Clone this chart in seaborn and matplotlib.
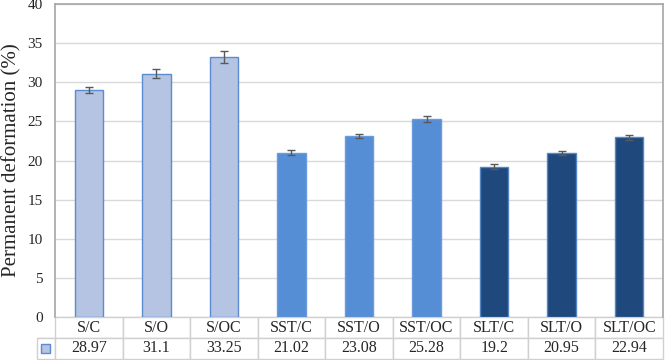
import matplotlib
matplotlib.use("Agg")
import matplotlib.pyplot as plt
import seaborn as sns
import pandas as pd
from matplotlib.patches import Rectangle

# data
categories = ["S/C", "S/O", "S/OC", "SST/C", "SST/O", "SST/OC", "SLT/C", "SLT/O", "SLT/OC"]
values = [28.97, 31.1, 33.25, 21.02, 23.08, 25.28, 19.2, 20.95, 22.94]
value_labels = ["28.97", "31.1", "33.25", "21.02", "23.08", "25.28", "19.2", "20.95", "22.94"]
errors = [0.4, 0.6, 0.8, 0.3, 0.25, 0.35, 0.3, 0.3, 0.3]
groups = ["S", "S", "S", "SST", "SST", "SST", "SLT", "SLT", "SLT"]

fill = {"S": "#B4C4E2", "SST": "#558ED5", "SLT": "#1F497D"}
edge = {"S": "#5B8BD0", "SST": "#6A9BDA", "SLT": "#5585C4"}

df = pd.DataFrame({"cat": categories, "val": values, "grp": groups})

sns.set_style("white")
plt.rcParams["font.family"] = ["Liberation Serif", "DejaVu Serif"]

fig = plt.figure(figsize=(6.66, 3.6), dpi=100)
ax = fig.add_axes([55 / 666, 1 - 317 / 360, 608 / 666, 313 / 360])

sns.barplot(data=df, x="cat", y="val", hue="cat", palette=[fill[g] for g in groups],
            saturation=1, width=0.42, legend=False, ax=ax, zorder=3)
for patch, g in zip(ax.patches, groups):
    patch.set_edgecolor(edge[g])
    patch.set_linewidth(1.0)

ax.errorbar(range(len(categories)), values, yerr=errors, fmt="none",
            ecolor="#595959", elinewidth=1.0, capsize=3, capthick=1.0, zorder=4)

ax.set_ylim(0, 40)
ax.set_xlim(-0.5, len(categories) - 0.5)
ax.set_yticks(range(0, 41, 5))
ax.yaxis.grid(True, color="#D9D9D9", linewidth=1.0, zorder=0)
ax.set_axisbelow(True)
ax.tick_params(axis="y", labelsize=11, length=0, pad=9)
ax.set_xticks([])
ax.set_xlabel("")
ax.set_ylabel("Permanent deformation (%)", fontsize=15, labelpad=4)

for s in ["top", "right", "left"]:
    ax.spines[s].set_color("#A6A6A6")
    ax.spines[s].set_linewidth(1.2)
ax.spines["bottom"].set_visible(False)

# data table below the plot
legw = 18 / 608
rowh = 21 / 313
cell_text = [[""] + categories, [""] + value_labels]
tab = ax.table(cellText=cell_text, cellLoc="center",
               bbox=[-legw, -2 * rowh, 1 + legw, 2 * rowh])
tab.auto_set_font_size(False)
tab.set_fontsize(11.5)
for (r, c), cell in tab.get_celld().items():
    cell.set_edgecolor("#D0D0D0")
    cell.set_linewidth(1.0)
    if c == 0:
        cell.set_width(legw)
        cell.set_x(-legw)
        if r == 0:
            cell.visible_edges = "B"
    else:
        cell.set_width(1 / 9)
        cell.set_x((c - 1) / 9)

ax.add_patch(Rectangle((-legw + 4 / 608, -1.5 * rowh - 4 / 313), 9 / 608, 9 / 313,
                       transform=ax.transAxes, facecolor=fill["S"], edgecolor=edge["S"],
                       linewidth=1.0, clip_on=False, zorder=5))

fig.savefig("out.png", dpi=100)
